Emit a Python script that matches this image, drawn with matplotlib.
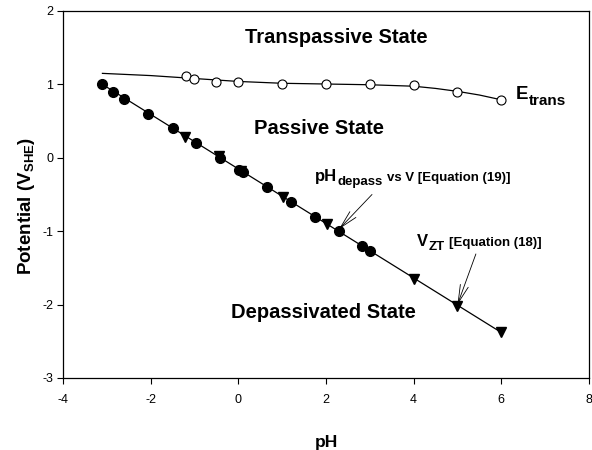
import matplotlib
matplotlib.use('Agg')
import matplotlib.pyplot as plt

plt.rcParams['font.family'] = ['Liberation Sans', 'DejaVu Sans']
plt.rcParams['mathtext.fontset'] = 'custom'
plt.rcParams['mathtext.rm'] = 'Liberation Sans'
plt.rcParams['mathtext.bf'] = 'Liberation Sans:bold'
plt.rcParams['mathtext.it'] = 'Liberation Sans:italic'
plt.rcParams['axes.unicode_minus'] = False

# depassivation pH measured vs potential (filled circles)
ph_depass = [-3.1, -2.85, -2.6, -2.05, -1.5, -0.97, -0.42, 0.02, 0.1, 0.66, 1.2, 1.75, 2.29, 2.83, 3.0]
v_depass = [1.0, 0.9, 0.8, 0.6, 0.4, 0.2, 0.0, -0.17, -0.2, -0.4, -0.6, -0.8, -1.0, -1.2, -1.27]

# zero-threshold potential from eq. 18 (triangles)
ph_zt = [-1.22, -0.45, 0.05, 1.01, 2.02, 4.0, 5.0, 6.0]
v_zt = [0.28, 0.02, -0.18, -0.53, -0.9, -1.65, -2.02, -2.38]

# linear fit through both sets
ph_line = [-3.1, 6.0]
v_line = [1.0, -2.38]

# transpassive potential (open circles) and its fitted curve
ph_trans = [-1.2, -1.0, -0.5, 0.0, 1.0, 2.0, 3.0, 4.0, 5.0, 6.0]
v_trans = [1.11, 1.07, 1.035, 1.03, 1.01, 1.0, 1.0, 0.99, 0.90, 0.79]
ph_trans_fit = [-3.1, -2.0, -1.0, 0.0, 1.0, 2.0, 3.0, 4.0, 4.5, 5.0, 5.5, 6.0]
v_trans_fit = [1.15, 1.12, 1.08, 1.04, 1.015, 1.005, 0.995, 0.975, 0.945, 0.905, 0.855, 0.79]

fig = plt.figure(figsize=(5.92, 4.5), dpi=100)
ax = fig.add_axes([0.1064, 0.16, 0.8885, 0.8156])

ax.plot(ph_line, v_line, color='black', lw=0.9, zorder=1)
ax.plot(ph_trans_fit, v_trans_fit, color='black', lw=0.9, zorder=1)
ax.plot(ph_zt, v_zt, 'v', color='black', ms=7.5, ls='none', zorder=2)
ax.plot(ph_depass, v_depass, 'o', color='black', ms=7, ls='none', zorder=3)
ax.plot(ph_trans, v_trans, 'o', mfc='white', mec='black', mew=0.8, ms=6.5, ls='none', zorder=3)

ax.set_xlim(-4, 8)
ax.set_ylim(-3, 2)
ax.set_xticks([-4, -2, 0, 2, 4, 6, 8])
ax.set_yticks([-3, -2, -1, 0, 1, 2])
ax.tick_params(direction='out', length=4.5, width=0.8, labelsize=9, top=False, right=False)
ax.tick_params(axis='x', pad=7)
ax.tick_params(axis='y', pad=2.5)
for s in ax.spines.values():
    s.set_linewidth(0.9)

ax.set_xlabel('pH', fontsize=12.5, fontweight='bold')
ax.xaxis.set_label_coords(0.5, -0.155)
ax.set_ylabel(r'Potential (V$_{\mathbf{SHE}}$)', fontsize=13.5, fontweight='bold')
ax.yaxis.set_label_coords(-0.05, 0.47)

ax.text(2.23, 1.64, 'Transpassive State', fontsize=14.5, fontweight='bold', ha='center', va='center')
ax.text(1.84, 0.40, 'Passive State', fontsize=14.5, fontweight='bold', ha='center', va='center')
ax.text(1.94, -2.11, 'Depassivated State', fontsize=14.5, fontweight='bold', ha='center', va='center')


def sub_label(x, y, main, sub, rest, size_main, size_sub, drop):
    # main symbol, lowered subscript, then trailing text on the main baseline
    t = ax.text(x, y, main, fontsize=size_main, fontweight='bold', ha='left', va='bottom')
    s = ax.annotate(sub, xy=(1, 0), xycoords=t, xytext=(0.3, -drop), textcoords='offset points',
                    fontsize=size_sub, fontweight='bold', ha='left', va='bottom')
    if rest:
        ax.annotate(rest, xy=(1, 0), xycoords=s, xytext=(3, drop), textcoords='offset points',
                    fontsize=size_sub, fontweight='bold', ha='left', va='bottom')


sub_label(6.34, 0.74, 'E', 'trans', None, 13.5, 11, 3.5)
sub_label(1.75, -0.36, 'pH', 'depass', 'vs V [Equation (19)]', 12, 9.5, 3)
sub_label(4.07, -1.24, 'V', 'ZT', '[Equation (18)]', 12, 9.5, 3)

arrow = dict(arrowstyle='->,head_length=1.3,head_width=0.3', color='black', lw=0.6, shrinkA=0, shrinkB=0)
ax.annotate('', xy=(2.3, -0.97), xytext=(3.05, -0.50), arrowprops=arrow)
ax.annotate('', xy=(5.0, -2.0), xytext=(5.42, -1.31), arrowprops=arrow)

plt.savefig('out.png', dpi=100)
plt.close()
